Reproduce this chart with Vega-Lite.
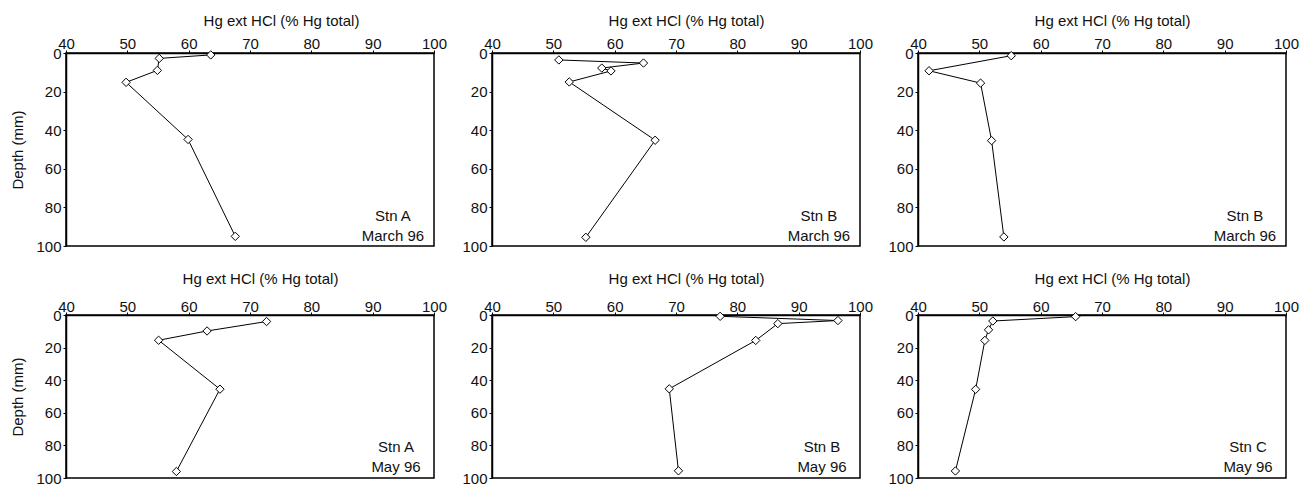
{
  "$schema": "https://vega.github.io/schema/vega-lite/v6.json",
  "background": "white",
  "padding": {"left": 10, "top": 12, "right": 2, "bottom": 2},
  "spacing": 15,
  "config": {
    "font": "Liberation Sans",
    "view": {"stroke": "black", "strokeWidth": 1.5},
    "axis": {
      "grid": false,
      "domainColor": "black",
      "domainWidth": 1.5,
      "tickColor": "black",
      "tickSize": 3,
      "labelFont": "Liberation Sans",
      "labelFontSize": 15,
      "labelColor": "#111",
      "labelPadding": 2,
      "labelFlush": false,
      "labelOverlap": false,
      "titleFont": "Liberation Sans",
      "titleFontSize": 15,
      "titleFontWeight": "normal",
      "titleColor": "#111"
    },
    "axisY": {"titlePadding": 10, "labelOverlap": false, "labelBound": false, "labelSeparation": 0},
    "text": {"font": "Liberation Sans", "fontSize": 15, "color": "#111"}
  },
  "data": {
    "values": [
      {"panel": "p1", "value": 63.6, "depth": 1},
      {"panel": "p1", "value": 55.2, "depth": 2.8},
      {"panel": "p1", "value": 54.9, "depth": 9},
      {"panel": "p1", "value": 49.8, "depth": 15.2},
      {"panel": "p1", "value": 59.9, "depth": 44.8},
      {"panel": "p1", "value": 67.6, "depth": 95},
      {"panel": "p2", "value": 50.9, "depth": 3.6},
      {"panel": "p2", "value": 64.7, "depth": 5.2},
      {"panel": "p2", "value": 57.9, "depth": 7.8},
      {"panel": "p2", "value": 59.4, "depth": 9.3},
      {"panel": "p2", "value": 52.6, "depth": 15},
      {"panel": "p2", "value": 66.6, "depth": 45.2},
      {"panel": "p2", "value": 55.3, "depth": 95.5},
      {"panel": "p3", "value": 55.2, "depth": 1.4},
      {"panel": "p3", "value": 41.8, "depth": 9.2},
      {"panel": "p3", "value": 50.2, "depth": 15.6},
      {"panel": "p3", "value": 52.0, "depth": 45.4},
      {"panel": "p3", "value": 54.0, "depth": 95.3},
      {"panel": "p4", "value": 72.7, "depth": 4},
      {"panel": "p4", "value": 63.0, "depth": 9.8},
      {"panel": "p4", "value": 55.1, "depth": 15.5},
      {"panel": "p4", "value": 65.1, "depth": 45.5},
      {"panel": "p4", "value": 58.0, "depth": 96},
      {"panel": "p5", "value": 77.2, "depth": 0.8},
      {"panel": "p5", "value": 96.4, "depth": 3.4},
      {"panel": "p5", "value": 86.6, "depth": 5.3},
      {"panel": "p5", "value": 83.0, "depth": 15.6},
      {"panel": "p5", "value": 68.9, "depth": 45.3},
      {"panel": "p5", "value": 70.4, "depth": 95.6},
      {"panel": "p6", "value": 65.7, "depth": 1},
      {"panel": "p6", "value": 52.2, "depth": 3.7},
      {"panel": "p6", "value": 51.5, "depth": 9.1},
      {"panel": "p6", "value": 50.9, "depth": 15.6},
      {"panel": "p6", "value": 49.4, "depth": 45.6},
      {"panel": "p6", "value": 46.1, "depth": 95.7}
    ]
  },
  "vconcat": [
    {
      "bounds": "flush",
      "spacing": 58,
      "hconcat": [
        {
          "width": 368, "height": 193,
          "transform": [{"filter": "datum.panel == 'p1'"}],
          "layer": [
            {
              "mark": {"type": "line", "color": "black", "strokeWidth": 1,
                "point": {"shape": "diamond", "filled": true, "fill": "white", "stroke": "black", "strokeWidth": 1, "size": 70}},
              "encoding": {
                "x": {"field": "value", "type": "quantitative", "scale": {"domain": [40, 100]},
                  "axis": {"orient": "top", "values": [40, 50, 60, 70, 80, 90, 100], "labelPadding": -1, "title": "Hg ext HCl (% Hg total)", "titleX": 215, "titleY": -33, "titleBaseline": "middle"}},
                "y": {"field": "depth", "type": "quantitative", "scale": {"domain": [0, 100], "reverse": true, "nice": false},
                  "axis": {"tickCount": 5, "labelOverlap": false, "title": "Depth (mm)"}},
                "order": {"field": "depth", "type": "quantitative"}
              }
            },
            {
              "data": {"values": [{}]},
              "mark": {"type": "text", "align": "center", "baseline": "middle", "lineHeight": 20},
              "encoding": {"x": {"datum": 93.3}, "y": {"datum": 84.5}, "text": {"value": ["Stn A", "March 96"]}}
            }
          ]
        },
        {
          "width": 368, "height": 193,
          "transform": [{"filter": "datum.panel == 'p2'"}],
          "layer": [
            {
              "mark": {"type": "line", "color": "black", "strokeWidth": 1,
                "point": {"shape": "diamond", "filled": true, "fill": "white", "stroke": "black", "strokeWidth": 1, "size": 70}},
              "encoding": {
                "x": {"field": "value", "type": "quantitative", "scale": {"domain": [40, 100]},
                  "axis": {"orient": "top", "values": [40, 50, 60, 70, 80, 90, 100], "labelPadding": -1, "title": "Hg ext HCl (% Hg total)", "titleX": 194, "titleY": -33, "titleBaseline": "middle"}},
                "y": {"field": "depth", "type": "quantitative", "scale": {"domain": [0, 100], "reverse": true, "nice": false},
                  "axis": {"tickCount": 5, "labelOverlap": false, "title": null}},
                "order": {"field": "depth", "type": "quantitative"}
              }
            },
            {
              "data": {"values": [{}]},
              "mark": {"type": "text", "align": "center", "baseline": "middle", "lineHeight": 20},
              "encoding": {"x": {"datum": 93.3}, "y": {"datum": 84.5}, "text": {"value": ["Stn B", "March 96"]}}
            }
          ]
        },
        {
          "width": 368, "height": 193,
          "transform": [{"filter": "datum.panel == 'p3'"}],
          "layer": [
            {
              "mark": {"type": "line", "color": "black", "strokeWidth": 1,
                "point": {"shape": "diamond", "filled": true, "fill": "white", "stroke": "black", "strokeWidth": 1, "size": 70}},
              "encoding": {
                "x": {"field": "value", "type": "quantitative", "scale": {"domain": [40, 100]},
                  "axis": {"orient": "top", "values": [40, 50, 60, 70, 80, 90, 100], "labelPadding": -1, "title": "Hg ext HCl (% Hg total)", "titleX": 194, "titleY": -33, "titleBaseline": "middle"}},
                "y": {"field": "depth", "type": "quantitative", "scale": {"domain": [0, 100], "reverse": true, "nice": false},
                  "axis": {"tickCount": 5, "labelOverlap": false, "title": null}},
                "order": {"field": "depth", "type": "quantitative"}
              }
            },
            {
              "data": {"values": [{}]},
              "mark": {"type": "text", "align": "center", "baseline": "middle", "lineHeight": 20},
              "encoding": {"x": {"datum": 93.3}, "y": {"datum": 84.5}, "text": {"value": ["Stn B", "March 96"]}}
            }
          ]
        }
      ]
    },
    {
      "bounds": "flush",
      "spacing": 58,
      "hconcat": [
        {
          "width": 368, "height": 163,
          "transform": [{"filter": "datum.panel == 'p4'"}],
          "layer": [
            {
              "mark": {"type": "line", "color": "black", "strokeWidth": 1,
                "point": {"shape": "diamond", "filled": true, "fill": "white", "stroke": "black", "strokeWidth": 1, "size": 70}},
              "encoding": {
                "x": {"field": "value", "type": "quantitative", "scale": {"domain": [40, 100]},
                  "axis": {"orient": "top", "values": [40, 50, 60, 70, 80, 90, 100], "labelPadding": -2, "title": "Hg ext HCl (% Hg total)", "titleX": 194, "titleY": -37, "titleBaseline": "middle"}},
                "y": {"field": "depth", "type": "quantitative", "scale": {"domain": [0, 100], "reverse": true, "nice": false},
                  "axis": {"tickCount": 5, "labelOverlap": false, "title": "Depth (mm)"}},
                "order": {"field": "depth", "type": "quantitative"}
              }
            },
            {
              "data": {"values": [{}]},
              "mark": {"type": "text", "align": "center", "baseline": "middle", "lineHeight": 20},
              "encoding": {"x": {"datum": 93.8}, "y": {"datum": 81}, "text": {"value": ["Stn A", "May 96"]}}
            }
          ]
        },
        {
          "width": 368, "height": 163,
          "transform": [{"filter": "datum.panel == 'p5'"}],
          "layer": [
            {
              "mark": {"type": "line", "color": "black", "strokeWidth": 1,
                "point": {"shape": "diamond", "filled": true, "fill": "white", "stroke": "black", "strokeWidth": 1, "size": 70}},
              "encoding": {
                "x": {"field": "value", "type": "quantitative", "scale": {"domain": [40, 100]},
                  "axis": {"orient": "top", "values": [40, 50, 60, 70, 80, 90, 100], "labelPadding": -2, "title": "Hg ext HCl (% Hg total)", "titleX": 194, "titleY": -37, "titleBaseline": "middle"}},
                "y": {"field": "depth", "type": "quantitative", "scale": {"domain": [0, 100], "reverse": true, "nice": false},
                  "axis": {"tickCount": 5, "labelOverlap": false, "title": null}},
                "order": {"field": "depth", "type": "quantitative"}
              }
            },
            {
              "data": {"values": [{}]},
              "mark": {"type": "text", "align": "center", "baseline": "middle", "lineHeight": 20},
              "encoding": {"x": {"datum": 93.8}, "y": {"datum": 81}, "text": {"value": ["Stn B", "May 96"]}}
            }
          ]
        },
        {
          "width": 368, "height": 163,
          "transform": [{"filter": "datum.panel == 'p6'"}],
          "layer": [
            {
              "mark": {"type": "line", "color": "black", "strokeWidth": 1,
                "point": {"shape": "diamond", "filled": true, "fill": "white", "stroke": "black", "strokeWidth": 1, "size": 70}},
              "encoding": {
                "x": {"field": "value", "type": "quantitative", "scale": {"domain": [40, 100]},
                  "axis": {"orient": "top", "values": [40, 50, 60, 70, 80, 90, 100], "labelPadding": -2, "title": "Hg ext HCl (% Hg total)", "titleX": 194, "titleY": -37, "titleBaseline": "middle"}},
                "y": {"field": "depth", "type": "quantitative", "scale": {"domain": [0, 100], "reverse": true, "nice": false},
                  "axis": {"tickCount": 5, "labelOverlap": false, "title": null}},
                "order": {"field": "depth", "type": "quantitative"}
              }
            },
            {
              "data": {"values": [{}]},
              "mark": {"type": "text", "align": "center", "baseline": "middle", "lineHeight": 20},
              "encoding": {"x": {"datum": 93.8}, "y": {"datum": 81}, "text": {"value": ["Stn C", "May 96"]}}
            }
          ]
        }
      ]
    }
  ]
}
